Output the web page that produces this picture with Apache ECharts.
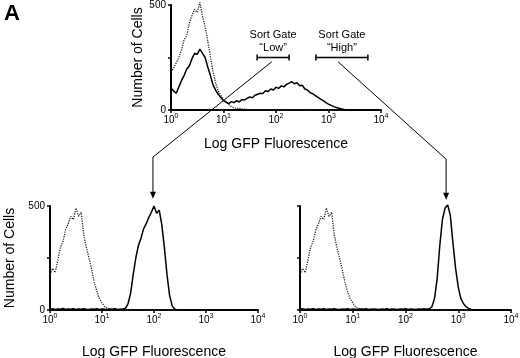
<!DOCTYPE html>
<html>
<head>
<meta charset="utf-8">
<script src="https://cdn.jsdelivr.net/npm/echarts@6/dist/echarts.min.js"></script>
<style>
  html, body { margin: 0; padding: 0; background: #fff; }
  #chart { width: 520px; height: 358px; }
</style>
</head>
<body>
<div id="chart"></div>
<script>
// bins in decades of log GFP fluorescence (10^0 .. 10^4), 0.05 decade apart
const bins = Array.from({ length: 81 }, (_, i) => +(i * 0.05).toFixed(2));
const decadeTicks = [0, 1, 2, 3, 4];
const countTicks = [0, 250, 500];

// top panel: unsorted population (solid) vs control (dotted)
const topControl = [180, 200, 225, 250, 285, 335, 355, 415, 450, 480,
  465, 512, 445, 395, 330, 255, 185, 130, 90, 70,
  52, 38, 26, 16, 10, 7, 9, 5, 4, 3,
  2, 2, 1, 0, 0, 0, 0, 0, 0, 0,
  0, 0, 0, 0, 0, 0, 0, 0, 0, 0,
  0, 0, 0, 0, 0, 0, 0, 0, 0, 0,
  0, 0, 0, 0, 0, 0, 0, 0, 0, 0,
  0, 0, 0, 0, 0, 0, 0, 0, 0, 0, 0];
const topGfp = [105, 90, 80, 110, 140, 165, 195, 210, 245, 270,
  265, 290, 270, 250, 205, 165, 120, 95, 75, 60,
  45, 38, 30, 40, 35, 45, 38, 50, 48, 55,
  62, 58, 70, 75, 80, 78, 92, 88, 100, 95,
  108, 103, 115, 110, 122, 128, 135, 125, 130, 115,
  118, 100, 95, 82, 78, 68, 60, 52, 45, 35,
  28, 22, 16, 12, 8, 5, 2, 0, 0, 0,
  0, 0, 0, 0, 0, 0, 0, 0, 0, 0, 0];

// bottom panels: control (dotted) and sorted "Low" / "High" cells (solid)
const sortControl = [170, 200, 180, 240, 300, 330, 385, 415, 450, 435,
  490, 450, 470, 360, 300, 250, 195, 135, 90, 55,
  34, 16, 8, 5, 3, 5, 2, 3, 1, 0,
  0, 0, 0, 0, 0, 0, 0, 0, 0, 0,
  0, 0, 0, 0, 0, 0, 0, 0, 0, 0,
  0, 0, 0, 0, 0, 0, 0, 0, 0, 0,
  0, 0, 0, 0, 0, 0, 0, 0, 0, 0,
  0, 0, 0, 0, 0, 0, 0, 0, 0, 0, 0];
const sortLow = [4, 6, 3, 5, 4, 7, 3, 5, 4, 6,
  3, 5, 4, 6, 4, 3, 5, 4, 6, 3,
  5, 4, 3, 5, 4, 6, 3, 4, 5, 8,
  30, 80, 170, 250, 310, 345, 390, 415, 445, 470,
  500, 465, 480, 410, 300, 170, 70, 20, 4, 0,
  0, 0, 0, 0, 0, 0, 0, 0, 0, 0,
  0, 0, 0, 0, 0, 0, 0, 0, 0, 0,
  0, 0, 0, 0, 0, 0, 0, 0, 0, 0, 0];
const sortHigh = [4, 6, 3, 5, 4, 6, 3, 5, 4, 6,
  3, 5, 4, 6, 4, 3, 5, 4, 6, 3,
  5, 4, 3, 5, 4, 6, 3, 4, 5, 4,
  3, 5, 4, 6, 3, 5, 4, 3, 5, 4,
  6, 3, 5, 4, 3, 5, 4, 6, 4, 6,
  15, 55, 150, 310, 435, 490, 505, 455, 320, 200,
  110, 55, 30, 15, 8, 3, 0, 0, 0, 0,
  0, 0, 0, 0, 0, 0, 0, 0, 0, 0, 0];

// sort gates (decades) and gate bar height (cells)
const gateLow = [1.64, 2.25];
const gateHigh = [2.76, 3.75];
const gateLevel = 250;

const FONT = 'Liberation Sans, Arial, Helvetica, sans-serif';
const pairs = (ys) => bins.map((x, i) => [x, ys[i]]);

const chart = echarts.init(document.getElementById('chart'));

const xAxisFor = (gridIndex, nameGap) => ({
  type: 'value', gridIndex, min: 0, max: 4, interval: 1,
  name: 'Log GFP Fluorescence', nameLocation: 'middle', nameGap,
  nameTextStyle: { fontFamily: FONT, fontSize: 14, color: '#000' },
  axisLine: { lineStyle: { color: '#000', width: 2 } },
  axisTick: { inside: false, length: 3, lineStyle: { color: '#000', width: 1.5 } },
  splitLine: { show: false },
  axisLabel: {
    margin: 3, color: '#000',
    formatter: (v) => `{b|10}{s|${v}}`,
    rich: {
      b: { fontFamily: FONT, fontSize: 10, lineHeight: 12, verticalAlign: 'bottom', color: '#000' },
      s: { fontFamily: FONT, fontSize: 7, lineHeight: 6, verticalAlign: 'top', color: '#000' }
    }
  }
});

const yAxisFor = (gridIndex, showText, nameGap) => ({
  type: 'value', gridIndex, min: 0, max: 500, interval: 250,
  name: showText ? 'Number of Cells' : '', nameLocation: 'middle', nameGap,
  nameTextStyle: { fontFamily: FONT, fontSize: 14, color: '#000' },
  axisLine: { show: true, lineStyle: { color: '#000', width: 2 } },
  axisTick: { show: true, length: 3, lineStyle: { color: '#000', width: 1.5 } },
  splitLine: { show: false },
  axisLabel: {
    show: showText, margin: 5, color: '#000', fontFamily: FONT, fontSize: 10,
    formatter: (v) => (countTicks.indexOf(v) === 1 ? '' : String(v))
  }
});

const solid = (xi, ys) => ({
  type: 'line', xAxisIndex: xi, yAxisIndex: xi, data: pairs(ys),
  showSymbol: false, clip: false, silent: true, z: 3,
  lineStyle: { color: '#000', width: 1.5 }
});
const dotted = (xi, ys) => ({
  type: 'line', xAxisIndex: xi, yAxisIndex: xi, data: pairs(ys),
  showSymbol: false, clip: false, silent: true, z: 2,
  lineStyle: { color: '#222', width: 1.3, type: [1.2, 1.2] }
});
const gate = (range) => ({
  type: 'line', xAxisIndex: 0, yAxisIndex: 0,
  data: [[range[0], gateLevel], [range[1], gateLevel]],
  symbol: 'rect', symbolSize: [1.5, 6], showSymbol: true, clip: false, silent: true,
  itemStyle: { color: '#000' }, lineStyle: { color: '#000', width: 1.5 }
});

chart.setOption({
  animation: false,
  backgroundColor: '#fff',
  grid: [
    { left: 171, top: 5, width: 210, height: 105, outerBoundsMode: 'none' },
    { left: 50, top: 206, width: 208, height: 104, outerBoundsMode: 'none' },
    { left: 300, top: 206, width: 211, height: 104, outerBoundsMode: 'none' }
  ],
  xAxis: [xAxisFor(0, 27), xAxisFor(1, 35), xAxisFor(2, 35)],
  yAxis: [yAxisFor(0, true, 25), yAxisFor(1, true, 33), yAxisFor(2, false, 0)],
  series: [
    dotted(0, topControl), solid(0, topGfp),
    dotted(1, sortControl), solid(1, sortLow),
    dotted(2, sortControl), solid(2, sortHigh),
    gate(gateLow), gate(gateHigh)
  ]
});

// annotations: gate labels and arrows linking each gate to its sorted population
const px = (g, x, y) => chart.convertToPixel({ gridIndex: g }, [x, y]);
const graphics = [{
  type: 'text', left: 4, top: 3,
  style: { text: 'A', font: `bold 22px ${FONT}`, fill: '#000' }
}];

function gateLabel(range, word) {
  const c = px(0, (range[0] + range[1]) / 2, gateLevel);
  graphics.push({
    type: 'text', x: c[0], y: c[1] - 23,
    style: { text: 'Sort Gate', font: `11px ${FONT}`, fill: '#000', align: 'center', verticalAlign: 'middle' }
  });
  graphics.push({
    type: 'text', x: c[0], y: c[1] - 10,
    style: { text: word, font: `11px ${FONT}`, fill: '#000', align: 'center', verticalAlign: 'middle' }
  });
}
gateLabel(gateLow, '\u201cLow\u201d');
gateLabel(gateHigh, '\u201cHigh\u201d');

function arrow(from, g, peak, bendCount, tipCount) {
  const a = px(0, from, gateLevel - 20);
  const b = px(g, peak, bendCount);
  const t = px(g, peak, tipCount);
  graphics.push({
    type: 'polyline', shape: { points: [a, b, [t[0], t[1] - 5]] },
    style: { stroke: '#000', lineWidth: 1, fill: null }
  });
  graphics.push({
    type: 'polygon', shape: { points: [[t[0] - 3, t[1] - 7], [t[0] + 3, t[1] - 7], t] },
    style: { fill: '#000' }
  });
}
arrow(1.92, 1, 1.98, 735, 535);
arrow(3.18, 2, 2.77, 725, 530);

chart.setOption({ graphic: graphics });
</script>
</body>
</html>
